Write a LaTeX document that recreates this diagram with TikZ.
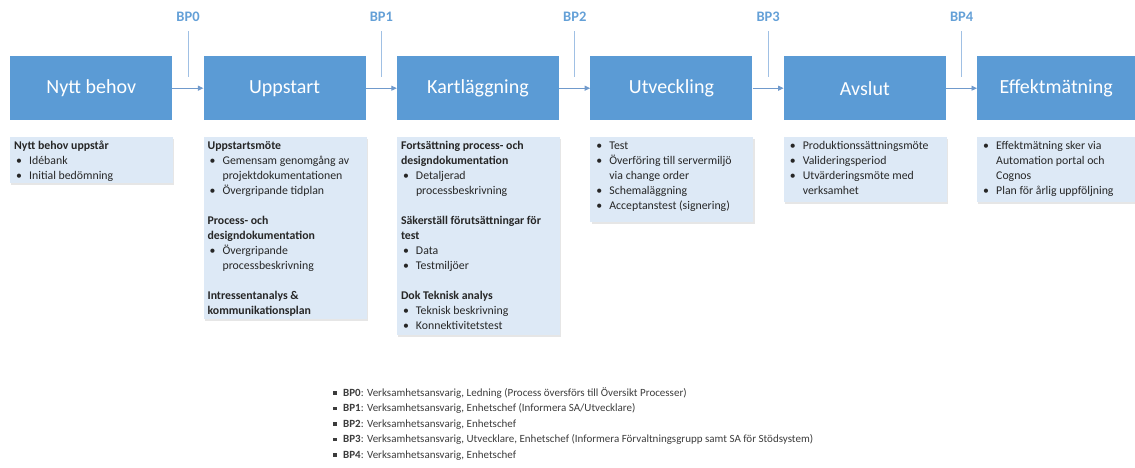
\documentclass[tikz,border=0pt]{standalone}
\usepackage{fontspec}
\setmainfont{Carlito}
\usetikzlibrary{arrows.meta,shadows}

\definecolor{phaseblue}{RGB}{91,155,213}
\definecolor{descfill}{RGB}{221,233,246}
\definecolor{flowline}{RGB}{112,154,204}
\definecolor{gateline}{RGB}{160,192,228}
\definecolor{gatelabel}{RGB}{100,160,215}
\definecolor{desctext}{RGB}{38,38,38}
\definecolor{legendtext}{RGB}{60,60,60}

% bullet line and continuation line inside a description
\newcommand{\bitem}[1]{\hspace*{2pt}\makebox[13pt][l]{\textbullet}#1}
\newcommand{\bcont}[1]{\hspace*{15pt}#1}
\newcommand{\firststrut}{\rule{0pt}{10pt}}
\newcommand{\sqbullet}{\makebox[10pt][l]{\raisebox{1.6pt}{\rule{3.4pt}{3.4pt}}}}

\tikzset{
  phase/.style={rectangle, fill=phaseblue, text=white, anchor=north west,
    inner sep=0pt, minimum width=162pt, minimum height=64pt,
    font=\fontsize{20}{24}\selectfont},
  descbox/.style={rectangle, fill=descfill, anchor=north west, inner sep=0pt,
    drop shadow={shadow xshift=1.2pt, shadow yshift=-1.4pt, opacity=0.16, fill=black!60}},
  desctext/.style={anchor=north west, align=left, inner sep=0pt, text=desctext,
    font=\fontsize{11.8}{15}\selectfont},
  flow/.style={draw=flowline, line width=0.9pt, -{Triangle[length=5.5pt,width=5pt]}},
  gate/.style={draw=gateline, line width=0.8pt},
  gatelabel/.style={text=gatelabel, inner sep=0pt,
    font=\bfseries\fontsize{14.5}{16}\selectfont},
  legend/.style={anchor=north west, align=left, inner sep=0pt, text=legendtext,
    font=\fontsize{11}{15.5}\selectfont},
}

\begin{document}
\begin{tikzpicture}[x=1pt, y=-1pt]
\useasboundingbox (0,0) rectangle (1135,467);

% phase boxes
\node[phase] (p0) at (10,56)    {\raisebox{-1pt}{Nytt behov}};
\node[phase] (p1) at (203.4,56) {\raisebox{-1pt}{Uppstart}};
\node[phase] (p2) at (396.8,56) {\raisebox{-1pt}{Kartläggning}};
\node[phase] (p3) at (590.2,56) {\raisebox{-1pt}{Utveckling}};
\node[phase] (p4) at (783.6,56) {\raisebox{-1pt}{Avslut}};
\node[phase, minimum width=158pt] (p5) at (977,56) {\raisebox{-1pt}{Effektmätning}};

% flow between phases
\foreach \a/\b in {p0/p1, p1/p2, p2/p3, p3/p4, p4/p5}
  \draw[flow] (\a.east) -- (\b.west);

% decision gates
\foreach \i/\x in {0/188, 1/381.4, 2/574.8, 3/768.2, 4/961.6} {
  \coordinate (g\i top) at (\x,31);
  \coordinate (g\i bot) at (\x,77);
  \draw[gate] (g\i top) -- (g\i bot);
  \node[gatelabel] (bp\i) at (\x,17) {BP\i};
}

% description boxes
\node[descbox, minimum width=163pt, minimum height=46pt]  (d0) at (10,137)    {};
\node[descbox, minimum width=163pt, minimum height=182pt] (d1) at (203.4,137) {};
\node[descbox, minimum width=163pt, minimum height=198pt] (d2) at (396.8,137) {};
\node[descbox, minimum width=163pt, minimum height=85pt]  (d3) at (590.2,137) {};
\node[descbox, minimum width=163pt, minimum height=65pt]  (d4) at (783.6,137) {};
\node[descbox, minimum width=158pt, minimum height=65pt]  (d5) at (977,137)   {};

\node[desctext] (t0) at ([xshift=4pt, yshift=-2.5pt]d0.north west) {%
  \firststrut\textbf{Nytt behov uppstår}\\
  \bitem{Idébank}\\
  \bitem{Initial bedömning}};

\node[desctext] (t1) at ([xshift=4pt, yshift=-2.5pt]d1.north west) {%
  \firststrut\textbf{Uppstartsmöte}\\
  \bitem{Gemensam genomgång av}\\
  \bcont{projektdokumentationen}\\
  \bitem{Övergripande tidplan}\\[15pt]
  \textbf{Process- och}\\
  \textbf{designdokumentation}\\
  \bitem{Övergripande}\\
  \bcont{processbeskrivning}\\[15pt]
  \textbf{Intressentanalys \&}\\
  \textbf{kommunikationsplan}};

\node[desctext] (t2) at ([xshift=4pt, yshift=-2.5pt]d2.north west) {%
  \firststrut\textbf{Fortsättning process- och}\\
  \textbf{designdokumentation}\\
  \bitem{Detaljerad}\\
  \bcont{processbeskrivning}\\[15pt]
  \textbf{Säkerställ förutsättningar för}\\
  \textbf{test}\\
  \bitem{Data}\\
  \bitem{Testmiljöer}\\[15pt]
  \textbf{Dok Teknisk analys}\\
  \bitem{Teknisk beskrivning}\\
  \bitem{Konnektivitetstest}};

\node[desctext] (t3) at ([xshift=4pt, yshift=-2.5pt]d3.north west) {%
  \firststrut\bitem{Test}\\
  \bitem{Överföring till servermiljö}\\
  \bcont{via change order}\\
  \bitem{Schemaläggning}\\
  \bitem{Acceptanstest (signering)}};

\node[desctext] (t4) at ([xshift=4pt, yshift=-2.5pt]d4.north west) {%
  \firststrut\bitem{Produktionssättningsmöte}\\
  \bitem{Valideringsperiod}\\
  \bitem{Utvärderingsmöte med}\\
  \bcont{verksamhet}};

\node[desctext] (t5) at ([xshift=4pt, yshift=-2.5pt]d5.north west) {%
  \firststrut\bitem{Effektmätning sker via}\\
  \bcont{Automation portal och}\\
  \bcont{Cognos}\\
  \bitem{Plan för årlig uppföljning}};

% responsibilities at each gate
\node[legend] (resp) at (333,387) {%
  \rule{0pt}{9pt}\sqbullet\textbf{BP0}: Verksamhetsansvarig, Ledning (Process översförs till Översikt Processer)\\
  \sqbullet\textbf{BP1}: Verksamhetsansvarig, Enhetschef (Informera SA/Utvecklare)\\
  \sqbullet\textbf{BP2}: Verksamhetsansvarig, Enhetschef\\
  \sqbullet\textbf{BP3}: Verksamhetsansvarig, Utvecklare, Enhetschef (Informera Förvaltningsgrupp samt SA för Stödsystem)\\
  \sqbullet\textbf{BP4}: Verksamhetsansvarig, Enhetschef};
\end{tikzpicture}
\end{document}
